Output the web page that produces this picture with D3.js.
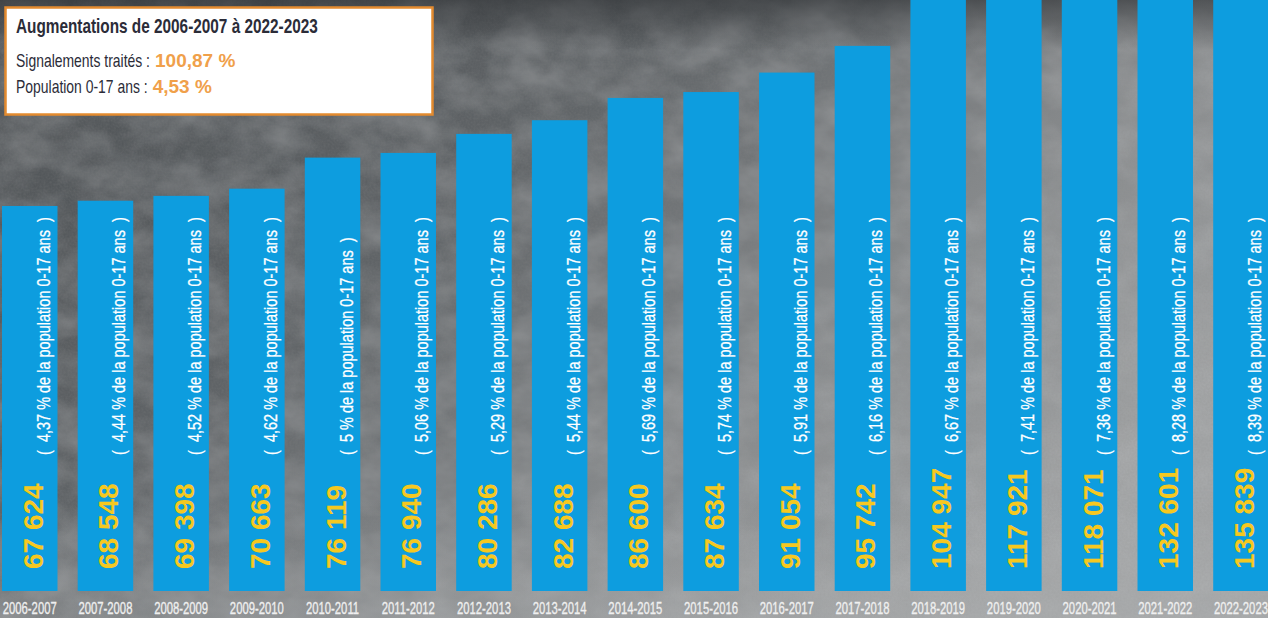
<!DOCTYPE html>
<html>
<head>
<meta charset="utf-8">
<script src="https://cdn.jsdelivr.net/npm/d3@7"></script>
<style>
html,body{margin:0;padding:0;background:#777;}
svg{display:block;}
</style>
</head>
<body>
<svg id="chart" width="1268" height="618"></svg>
<script>
const categories = ["2006-2007","2007-2008","2008-2009","2009-2010","2010-2011","2011-2012","2012-2013","2013-2014","2014-2015","2015-2016","2016-2017","2017-2018","2018-2019","2019-2020","2020-2021","2021-2022","2022-2023"];
const signalements = [67624,68548,69398,70663,76119,76940,80286,82688,86600,87634,91054,95742,104947,117921,118071,132601,135839];
const valueLabels = ["67 624","68 548","69 398","70 663","76 119","76 940","80 286","82 688","86 600","87 634","91 054","95 742","104 947","117 921","118 071","132 601","135 839"];
const pctLabels = ["4,37 %","4,44 %","4,52 %","4,62 %","5 %","5,06 %","5,29 %","5,44 %","5,69 %","5,74 %","5,91 %","6,16 %","6,67 %","7,41 %","7,36 %","8,28 %","8,39 %"];
const titleText = "Augmentations de 2006-2007 à 2022-2023";
const summaryLabels = ["Signalements traités :","Population 0-17 ans :"];
const summaryValues = ["100,87 %","4,53 %"];

const W = 1268, H = 618;
const svg = d3.select("#chart");
const defs = svg.append("defs");

// background
const bg = defs.append("linearGradient").attr("id","bgGrad").attr("x1","0").attr("y1","0").attr("x2","1").attr("y2","0.6");
bg.append("stop").attr("offset","0%").attr("stop-color","#4c5053");
bg.append("stop").attr("offset","40%").attr("stop-color","#5f6366");
bg.append("stop").attr("offset","70%").attr("stop-color","#85888a");
bg.append("stop").attr("offset","100%").attr("stop-color","#a2a4a5");
const f = defs.append("filter").attr("id","noise").attr("x","0").attr("y","0").attr("width","100%").attr("height","100%");
f.append("feTurbulence").attr("type","fractalNoise").attr("baseFrequency","0.02 0.03").attr("numOctaves","4").attr("seed","7").attr("result","t");
f.append("feColorMatrix").attr("type","matrix").attr("values","0 0 0 0 0.45  0 0 0 0 0.46  0 0 0 0 0.47  1.2 0 0 0 -0.35").attr("in","t");
const f2 = defs.append("filter").attr("id","grain").attr("x","0").attr("y","0").attr("width","100%").attr("height","100%");
f2.append("feTurbulence").attr("type","fractalNoise").attr("baseFrequency","0.5").attr("numOctaves","2").attr("seed","3").attr("result","t");
f2.append("feColorMatrix").attr("type","matrix").attr("values","0 0 0 0 0.25  0 0 0 0 0.25  0 0 0 0 0.25  0.8 0 0 0 -0.25").attr("in","t");

svg.append("rect").attr("width",W).attr("height",H).attr("fill","url(#bgGrad)");
svg.append("rect").attr("width",W).attr("height",H).attr("filter","url(#noise)").attr("opacity",0.6);
svg.append("rect").attr("width",W).attr("height",H).attr("filter","url(#grain)").attr("opacity",0.4);
const topShade = defs.append("linearGradient").attr("id","topShade").attr("x1","0").attr("y1","0").attr("x2","0").attr("y2","1");
topShade.append("stop").attr("offset","0%").attr("stop-color","#2a2d30").attr("stop-opacity",0.6);
topShade.append("stop").attr("offset","100%").attr("stop-color","#2a2d30").attr("stop-opacity",0);
svg.append("rect").attr("width",W).attr("height",50).attr("fill","url(#topShade)");
const botShade = defs.append("linearGradient").attr("id","botShade").attr("x1","0").attr("y1","0").attr("x2","0").attr("y2","1");
botShade.append("stop").attr("offset","0%").attr("stop-color","#b0b2b3").attr("stop-opacity",0);
botShade.append("stop").attr("offset","100%").attr("stop-color","#b0b2b3").attr("stop-opacity",0.35);
svg.append("rect").attr("y",500).attr("width",W).attr("height",118).attr("fill","url(#botShade)");

// scales
const baseY = 591;
const x = d3.scaleBand().domain(categories).range([2, 1268.7]).paddingInner(0.267).paddingOuter(0);
const y = d3.scaleLinear().domain([0, 103800]).range([baseY, 0]);

const blue = "#0d9ddf", yellow = "#f6c820";

svg.append("g").selectAll("rect").data(categories).join("rect")
  .attr("x", d => x(d))
  .attr("width", x.bandwidth())
  .attr("y", (d,i) => y(signalements[i]))
  .attr("height", (d,i) => baseY - y(signalements[i]))
  .attr("fill", blue);

const condFont = "'Liberation Sans', Arial, sans-serif";

function measure(text, size, weight){
  const t = svg.append("text").attr("font-family",condFont).attr("font-size",size).attr("font-weight",weight).attr("xml:space","preserve").text(text);
  const w = t.node().getComputedTextLength(); t.remove(); return w;
}

// percentage labels (condensed)
const pctSize = 19;
const pctScale = 238 / measure("(  4,37 % de la population 0-17 ans  )", pctSize, "normal");
svg.append("g").selectAll("text").data(categories).join("text")
  .attr("transform", (d) => `translate(${x(d) + x.bandwidth()/2 + 20},455) rotate(-90) scale(${pctScale},1)`)
  .attr("font-family", condFont).attr("font-size", pctSize).attr("fill","#ffffff")
  .attr("stroke","#ffffff").attr("stroke-width",0.3)
  .attr("xml:space","preserve")
  .text((d,i) => `(  ${pctLabels[i]} de la population 0-17 ans  )`);

// value labels
svg.append("g").selectAll("text").data(categories).join("text")
  .attr("transform", (d) => `translate(${x(d) + x.bandwidth()/2 + 13},569) rotate(-90)`)
  .attr("font-family", "'Liberation Sans', Arial, sans-serif").attr("font-size", 28).attr("font-weight","bold")
  .attr("fill", yellow)
  .text((d,i) => valueLabels[i]);

// x-axis
const axisSize = 17;
const axisScale = 54 / measure("2006-2007", axisSize, "normal");
const xAxis = svg.append("g").attr("transform",`translate(0,${baseY})`)
  .call(d3.axisBottom(x).tickSize(0).tickPadding(0));
xAxis.select(".domain").remove();
xAxis.selectAll(".tick text")
  .attr("y", null).attr("dy", null)
  .attr("transform", `translate(0,23) scale(${axisScale},1)`)
  .attr("font-family", condFont).attr("font-size", axisSize).attr("fill","#f0f0f0")
  .attr("stroke","#f0f0f0").attr("stroke-width",0.3);

// summary box
const box = svg.append("g");
box.append("rect").attr("x",5.5).attr("y",7.5).attr("width",427).attr("height",107)
  .attr("fill","#ffffff").attr("stroke","#e38b2f").attr("stroke-width",2.5);
const titleSize = 20;
const titleScale = 302 / measure(titleText, titleSize, "bold");
box.append("text").attr("transform",`translate(16,33) scale(${titleScale},1)`)
  .attr("font-family",condFont).attr("font-size",titleSize).attr("font-weight","bold").attr("fill","#2b2c38")
  .text(titleText);
const labSize = 19;
const labScale = 134 / measure(summaryLabels[0], labSize, "normal");
const rowsY = [67, 93];
summaryLabels.forEach((s,i) => {
  box.append("text").attr("transform",`translate(16,${rowsY[i]}) scale(${labScale},1)`)
    .attr("font-family",condFont).attr("font-size",labSize).attr("fill","#2b2c38").text(s);
  const lw = measure(s,labSize,"normal")*labScale;
  box.append("text").attr("x", 16 + lw + 5).attr("y", rowsY[i])
    .attr("font-family","'Liberation Sans', Arial, sans-serif").attr("font-size",19).attr("font-weight","bold")
    .attr("fill","#f0a04a").text(summaryValues[i]);
});
</script>
</body>
</html>
